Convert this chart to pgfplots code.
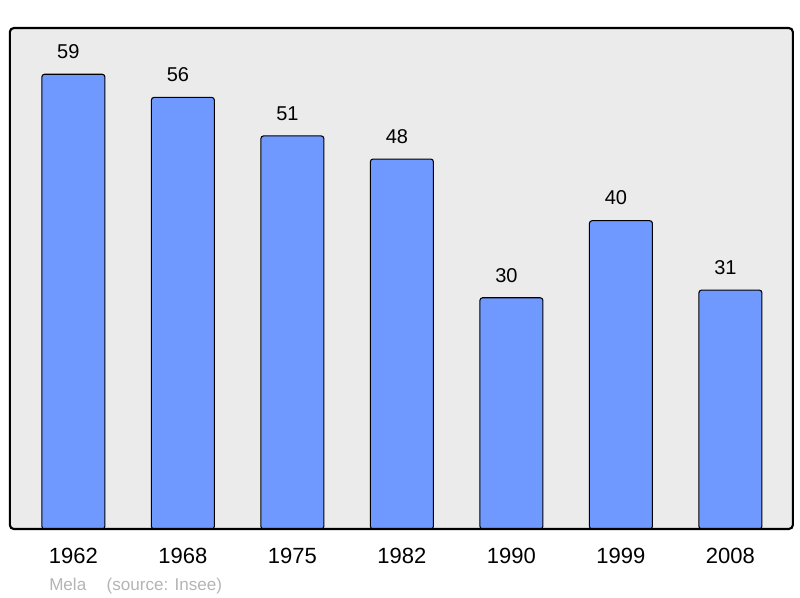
\documentclass[border=0pt]{standalone}
\usepackage{pgfplots}
\pgfplotsset{compat=1.18}
\usepackage{fontspec}
\setmainfont{Liberation Sans}
\definecolor{BarBlue}{HTML}{7099FF}
\definecolor{PanelGray}{HTML}{EBEBEB}
\definecolor{NoteGray}{HTML}{B4B4B4}

\begin{document}
\begin{tikzpicture}[x=0.75pt,y=0.75pt]
\path[use as bounding box] (0,0) rectangle (800,598);
\begin{axis}[
    at={(9,89.5)}, anchor=south west,
    scale only axis,
    width=587.25pt, height=375.75pt,
    ybar, bar width=47.25pt,
    xmin=-0.58, xmax=6.57,
    ymin=0, ymax=65,
    xtick=data,
    xticklabels={1962,1968,1975,1982,1990,1999,2008},
    ytick=\empty,
    major tick length=0pt,
    axis line style={draw=none},
    axis background/.style={fill=PanelGray, rounded corners=3pt},
    xticklabel style={font=\fontsize{16.5}{18}\selectfont, yshift=-11pt},
    nodes near coords,
    every node near coord/.append style={font=\fontsize{15}{16}\selectfont,
        anchor=center, yshift=17pt, xshift=-3.75pt,
        /pgf/number format/assume math mode=true},
    clip=false,
]
\addplot[fill=BarBlue, draw=black, line width=0.8pt, rounded corners=2pt]
  coordinates {(0,59) (1,56) (2,51) (3,48) (4,30) (5,40) (6,31)};
\draw[line width=1.6pt, rounded corners=3pt]
  (rel axis cs:0,0) rectangle (rel axis cs:1,1);
\end{axis}
\node[anchor=base west, text=NoteGray, font=\fontsize{12.8}{14}\selectfont, inner sep=0]
  at (49,7) {Mela\hspace{1.2em}(source: Insee)};
\end{tikzpicture}
\end{document}
